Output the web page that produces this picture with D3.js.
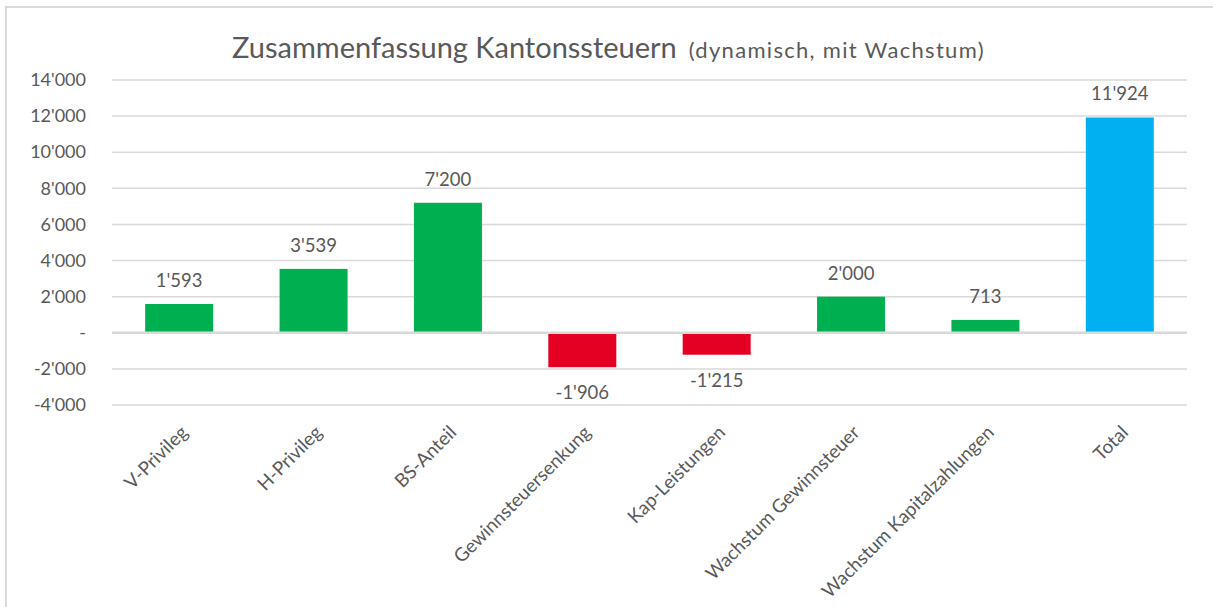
<!DOCTYPE html>
<html>
<head>
<meta charset="utf-8">
<script src="https://cdn.jsdelivr.net/npm/d3@7"></script>
<style>
  html, body { margin: 0; padding: 0; background: #fff; }
  svg { display: block; }
  text { font-family: Lato, "Open Sans", sans-serif; fill: #595959; }
</style>
</head>
<body>
<svg id="chart" width="1213" height="607"></svg>
<script>
// ---- data ----
const categories = ["V-Privileg", "H-Privileg", "BS-Anteil", "Gewinnsteuersenkung", "Kap-Leistungen", "Wachstum Gewinnsteuer", "Wachstum Kapitalzahlungen", "Total"];
const values = [1593, 3539, 7200, -1906, -1215, 2000, 713, 11924];
const yTicks = [-4000, -2000, 0, 2000, 4000, 6000, 8000, 10000, 12000, 14000];
const titleMain = "Zusammenfassung Kantonssteuern";
const titleSub = "(dynamisch, mit Wachstum)";

// ---- setup ----
const svg = d3.select("#chart");
const W = 1213, H = 607;
const plot = { left: 112, right: 1187, top: 80, bottom: 405 };

const locale = d3.formatLocale({ decimal: ".", thousands: "'", grouping: [3], currency: ["", ""], minus: "-" });
const fmt = locale.format(",d");
const fmtTick = v => v === 0 ? "-" : fmt(v);

const x = d3.scaleBand().domain(categories).range([plot.left, plot.right]).paddingInner(0.494).paddingOuter(0.247);
const y = d3.scaleLinear().domain([-4000, 14000]).range([plot.bottom, plot.top]);

const colorFor = (c, v) => c === "Total" ? "#00B0F0" : (v < 0 ? "#E30022" : "#00B050");

// chart border
svg.append("rect").attr("x", 6).attr("y", 7).attr("width", W + 20).attr("height", H + 20)
  .attr("fill", "none").attr("stroke", "#D9D9D9").attr("stroke-width", 2);

// title
const title = svg.append("text").attr("x", 232).attr("y", 58);
title.append("tspan").attr("font-size", 29).text(titleMain);
title.append("tspan").attr("font-size", 22).attr("dx", 12).attr("letter-spacing", 1.3).text(titleSub);

// gridlines
const grid = svg.append("g");
grid.selectAll("line").data(yTicks.filter(t => t !== 0)).join("line")
  .attr("x1", plot.left).attr("x2", plot.right)
  .attr("y1", d => y(d)).attr("y2", d => y(d))
  .attr("stroke", "#D9D9D9").attr("stroke-width", 1.5);

// y axis (labels only)
const yAxis = svg.append("g").attr("transform", `translate(${plot.left - 26},0)`)
  .call(d3.axisLeft(y).tickValues(yTicks).tickFormat(fmtTick).tickSize(0).tickPadding(0));
yAxis.select(".domain").remove();
yAxis.selectAll("text").attr("font-size", 18).attr("fill", "#595959")
  .attr("font-family", "Lato, 'Open Sans', sans-serif");

// bars
svg.append("g").selectAll("rect").data(categories).join("rect")
  .attr("x", d => x(d))
  .attr("width", x.bandwidth())
  .attr("y", (d, i) => y(Math.max(0, values[i])))
  .attr("height", (d, i) => Math.abs(y(values[i]) - y(0)))
  .attr("fill", (d, i) => colorFor(d, values[i]));

// zero line
svg.append("line").attr("x1", plot.left).attr("x2", plot.right)
  .attr("y1", y(0)).attr("y2", y(0)).attr("stroke", "#D9D9D9").attr("stroke-width", 2.5);

// data labels
svg.append("g").selectAll("text").data(categories).join("text")
  .attr("x", d => x(d) + x.bandwidth() / 2)
  .attr("y", (d, i) => values[i] >= 0 ? y(values[i]) - 17 : y(values[i]) + 32)
  .attr("text-anchor", "middle").attr("font-size", 18.5)
  .text((d, i) => fmt(values[i]));

// category labels
const xAxis = svg.append("g").attr("transform", `translate(0,${plot.bottom})`)
  .call(d3.axisBottom(x).tickSize(0).tickPadding(0));
xAxis.select(".domain").remove();
xAxis.selectAll("text")
  .attr("font-size", 18.8).attr("fill", "#595959")
  .attr("font-family", "Lato, 'Open Sans', sans-serif")
  .attr("text-anchor", "end")
  .attr("dy", "0.35em")
  .attr("transform", "translate(5,24) rotate(-45)");
</script>
</body>
</html>
